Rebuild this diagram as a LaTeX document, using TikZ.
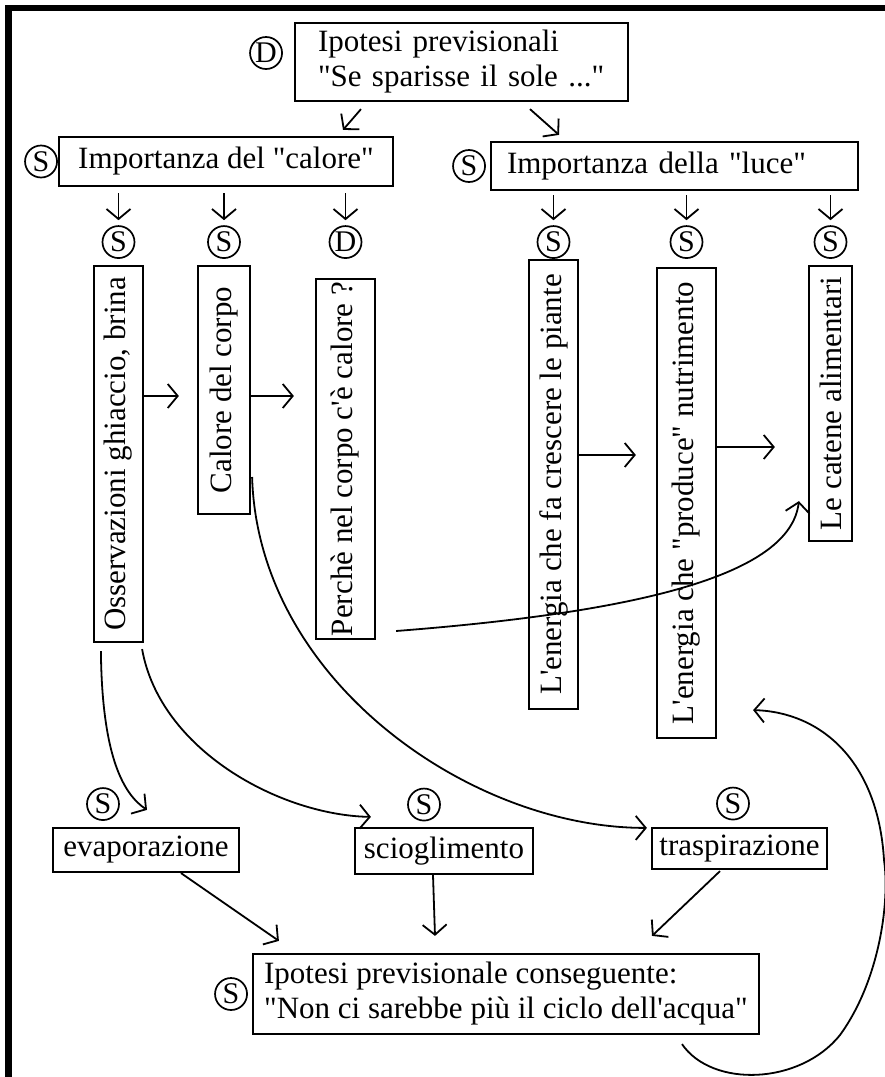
\documentclass[tikz,border=0pt]{standalone}
\usepackage{fontspec}
\newfontfamily\tnr{Liberation Serif}
\usepackage{tikz}
\usetikzlibrary{arrows.meta, positioning}
\newcommand{\vtxt}[1]{\rotatebox{90}{#1}}

\begin{document}
\begin{tikzpicture}[x=1pt, y=-1pt, node distance=8pt, line width=1.8pt,
  font=\tnr\fontsize{31}{35}\selectfont,
  >={Straight Barb[length=10pt,width=24pt]},
  box/.style={draw, line width=2.2pt, inner sep=0pt},
  badge/.style={draw, circle, line width=1.7pt, minimum size=32pt, inner sep=0pt, font=\tnr\fontsize{30}{30}\selectfont}]
  \useasboundingbox (0,0) rectangle (885,1077);
  \fill (5,5) rectangle (885,11);
  \fill (5,5) rectangle (12,1077);

  \node[box, align=left, text width=287pt, minimum width=333pt, minimum height=78pt] (ipo) at (461.5,62) {Ipotesi previsionali\\"Se sparisse il sole ..."};
  \node[badge, left=11pt of ipo, yshift=9pt] (dIpo) {D};
  \node[box, minimum width=334pt, minimum height=49pt] (caldx) at (226,161.5) {Importanza del "calore"};
  \node[badge, left=0pt of caldx] (sCaldx) {S};
  \node[box, align=left, text width=335pt, minimum width=367pt, minimum height=48pt] (luce) at (674.5,166) {Importanza della "luce"};
  \node[badge, left=4pt of luce] (sLuce) {S};

  \node[box, minimum width=49pt, minimum height=376pt] (oss) at (118.5,454) {\vtxt{Osservazioni ghiaccio, brina}};
  \node[box, minimum width=52pt, minimum height=248pt] (cal) at (224,390) {\vtxt{Calore del corpo}};
  \node[box, minimum width=59pt, minimum height=360pt] (perc) at (345.5,459) {\vtxt{Perchè nel corpo c'è calore ?}};
  \node[box, minimum width=49pt, minimum height=449pt] (cre) at (553.5,484.5) {\vtxt{L'energia che fa crescere le piante}};
  \node[box, minimum width=59pt, minimum height=470pt] (pro) at (686.5,503) {\vtxt{L'energia che "produce" nutrimento}};
  \node[box, minimum width=43pt, minimum height=275pt] (cat) at (830.5,403.5) {\vtxt{Le catene alimentari}};
  \node[badge, above=6pt of oss] (sOss) {S};
  \node[badge, above=6pt of cal] (sCal) {S};
  \node[badge, above=19pt of perc] (dPerc) {D};
  \node[badge, above=0pt of cre] (sCre) {S};
  \node[badge, above=8pt of pro] (sPro) {S};
  \node[badge, above=6pt of cat] (sCat) {S};

  \node[box, minimum width=186pt, minimum height=44pt] (evap) at (146,850) {evaporazione};
  \node[box, minimum width=178pt, minimum height=46pt] (sciol) at (444,851) {scioglimento};
  \node[box, minimum width=175pt, minimum height=41pt] (trasp) at (739.5,848.5) {traspirazione};
  \node[badge, above=6pt of evap, xshift=-43pt] (sEvap) {S};
  \node[badge, above=5.5pt of sciol, xshift=-20pt] (sSciol) {S};
  \node[badge, above=6.5pt of trasp, xshift=-6.5pt] (sTrasp) {S};

  \node[box, align=left, inner xsep=10pt, minimum width=506pt, minimum height=80pt] (conc) at (506,994) {Ipotesi previsionale conseguente:\\"Non ci sarebbe più il ciclo dell'acqua"};
  \node[badge, left=4pt of conc] (sConc) {S};

  \draw[->] ([shift={(-100.5,7)}]ipo.south) -- ([shift={(117,-6)}]caldx.north);
  \draw[->] ([shift={(68.5,7)}]ipo.south) -- ([shift={(-115.5,-6)}]luce.north);
  \foreach \c in {sOss,sCal,dPerc}
    \draw[->, shorten <=6pt, shorten >=5pt] (caldx.south -| \c) -- (\c);
  \foreach \c in {sCre,sPro,sCat}
    \draw[->, shorten <=4pt, shorten >=5pt] (luce.south -| \c) -- (\c);

  \draw[->, shorten >=18pt] ([shift={(0,-58)}]oss.east) -- ([shift={(0,6)}]cal.west);
  \draw[->, shorten >=21pt] ([shift={(0,6)}]cal.east) -- ([shift={(0,-63)}]perc.west);
  \draw[->, shorten >=20pt] ([shift={(0,-29.5)}]cre.east) -- ([shift={(0,-48)}]pro.west);
  \draw[->, shorten >=33pt] ([shift={(0,-56)}]pro.east) -- ([shift={(0,43.5)}]cat.west);
  \draw[->] ([shift={(20,172)}]perc.east) .. controls (640,612) and (790,575) .. ([shift={(-9,-41)}]cat.south west);

  \draw[->] ([shift={(1,87)}]cal.east) .. controls (258,680) and (470,828) .. ([shift={(-4,1)}]trasp.north west);
  \draw[->] ([shift={(8,8)}]oss.south west) .. controls (102,760) and (125,795) .. ([shift={(1,-17)}]evap.north);
  \draw[->] ([shift={(-2,6)}]oss.south east) .. controls (160,750) and (280,815) .. ([shift={(17,-10)}]sciol.north west);

  \draw[->] ([shift={(35,0)}]evap.south) -- ([shift={(27,-12)}]conc.north west);
  \draw[->] ([shift={(-11,0)}]sciol.south) -- ([shift={(-71,-17)}]conc.north);
  \draw[->] ([shift={(-19.5,1)}]trasp.south) -- ([shift={(146,-17)}]conc.north);
  \draw[->] ([shift={(176,9)}]conc.south) .. controls (712,1088) and (800,1085) .. (840,1035)
    .. controls (880,980) and (890,900) .. (884,860)
    .. controls (878,760) and (820,712) .. ([shift={(36,-29)}]pro.south east);
\end{tikzpicture}
\end{document}
